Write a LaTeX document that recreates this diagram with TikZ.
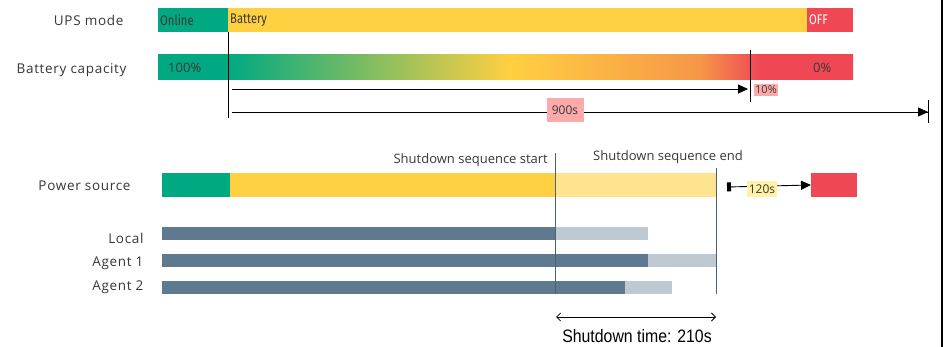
\documentclass[tikz,border=0pt]{standalone}
\usepackage{fontspec}
\setmainfont{Open Sans}
\newfontfamily\condfont[FakeStretch=0.8]{Fira Sans}
\newfontfamily\narrowfont[FakeStretch=0.88]{Liberation Sans}
\usetikzlibrary{positioning, arrows.meta, calc}

\definecolor{hpegreen}{RGB}{1,169,130}
\definecolor{hpeyellow}{RGB}{255,208,66}
\definecolor{hpepale}{RGB}{255,228,143}
\definecolor{hpered}{RGB}{240,71,85}
\definecolor{hpeorange}{RGB}{246,150,72}
\definecolor{slate}{RGB}{95,122,142}
\definecolor{slatelight}{RGB}{191,201,210}
\definecolor{tagpink}{RGB}{255,170,170}
\definecolor{tagyellow}{RGB}{255,241,165}
\definecolor{labelgray}{RGB}{55,55,55}

\pgfdeclarehorizontalshading{capshade}{100bp}{%
  color(0bp)=(hpegreen); color(25bp)=(hpegreen); color(30.04bp)=(hpegreen);
  color(50.3bp)=(hpeyellow); color(64bp)=(hpeorange); color(68.3bp)=(hpered);
  color(75bp)=(hpered); color(100bp)=(hpered)}

\begin{document}
\begin{tikzpicture}[
  x=1pt, y=-1pt,
  every node/.style = {font=\fontsize{13}{15}\selectfont, text=labelgray},
  rowlabel/.style = {anchor=east, font=\fontsize{13.5}{15}\selectfont\addfontfeatures{LetterSpace=5}},
  bar/.style      = {inner sep=0, outer sep=0, anchor=north west, minimum height=24},
  task/.style     = {bar, minimum height=13},
  bartext/.style  = {anchor=west, inner sep=2pt, font=\condfont\fontsize{14}{16}\selectfont},
  tag/.style      = {inner sep=1.5pt, font=\fontsize{12}{14}\selectfont},
  tline/.style    = {draw=black, line width=0.9pt},
  seqline/.style  = {draw=slate!80!black, line width=0.9pt},
  arr/.style      = {-{Triangle[length=10pt, width=9pt]}, line width=0.9pt}
]
\useasboundingbox (0,0) rectangle (944,347);

% UPS mode
\node[rowlabel] (upslbl) at (127,20) {UPS mode};
\node[bar, fill=hpegreen,  minimum width=70]  (online)  at (158,8) {};
\node[bar, fill=hpeyellow, minimum width=579] (battery) at (online.north east) {};
\node[bar, fill=hpered,    minimum width=46]  (off)     at (battery.north east) {};
\node[bartext] at (online.west)  {Online};
\node[bartext] at (battery.west) {Battery};
\node[bartext, text=white] at (off.west) {OFF};

% battery capacity
\node[rowlabel] (caplbl) at (130,70) {Battery capacity};
\node[bar, shade, shading=capshade, minimum width=695, minimum height=25] (cap) at (158,55) {};
\node[bartext, font=\fontsize{13}{15}\selectfont] at ($(cap.west)+(8,0)$) {100\%};
\node[bartext, font=\fontsize{13}{15}\selectfont] at ($(cap.west)+(653,0)$) {0\%};

\coordinate (lowmark) at (750,50);
\coordinate (runstart) at (232,89);
\coordinate (runlow)   at (748,89);
\coordinate (runend)   at (929,112);
\draw[tline] (battery.south west) -- ++(0,86) coordinate (startfoot);
\draw[tline] (lowmark) -- ++(0,52);
\draw[arr] (runstart) -- (runlow);
\draw[arr, -{Triangle[length=10pt, width=9pt]Bar[width=23pt]}] (runstart |- runend) -- (runend);
\node[tag, fill=tagpink, font=\fontsize{11}{13}\selectfont] (ten) at (766,90) {10\%};
\node[tag, fill=tagpink, minimum height=24, minimum width=37] (ninehundred) at (565,110) {900s};

% power source
\node[rowlabel] (pwrlbl) at (134,186) {Power source};
\node[bar, fill=hpegreen,  minimum width=68]  (mains) at (162,173) {};
\node[bar, fill=hpeyellow, minimum width=325] (ups)   at (mains.north east) {};
\node[bar, fill=hpepale,   minimum width=161] (seq)   at (ups.north east) {};
\node[bar, fill=hpered,    minimum width=46]  (down)  at (811,173) {};

% agents
\node[rowlabel] (locallbl) at (147,238) {Local};
\node[rowlabel] (ag1lbl)   at (147,263) {Agent 1};
\node[rowlabel] (ag2lbl)   at (147,287) {Agent 2};
\node[task, fill=slate,      minimum width=393] (local)  at (162,227) {};
\node[task, fill=slatelight, minimum width=93]  (localx) at (local.north east) {};
\node[task, fill=slate,      minimum width=486] (ag1)    at (162,254) {};
\node[task, fill=slatelight, minimum width=68]  (ag1x)   at (ag1.north east) {};
\node[task, fill=slate,      minimum width=463] (ag2)    at (162,281) {};
\node[task, fill=slatelight, minimum width=47]  (ag2x)   at (ag2.north east) {};

% shutdown sequence
\coordinate (seqtop) at (555,153);
\coordinate (endtop) at (716,168);
\draw[seqline] (seqtop) -- (seqtop |- ag2.south);
\draw[seqline] (endtop) -- (endtop |- ag2.south);
\node[anchor=south east, inner sep=0] (seqstart) at (548,167) {Shutdown sequence start};
\node[anchor=south west, inner sep=0] (seqend)   at (593,164) {Shutdown sequence end};

\coordinate (holdL) at (727,187);
\draw[arr, {Square[length=4pt, width=9pt]}-{Triangle[length=10pt, width=9pt]}] (holdL) -- (down.west);
\node[tag, fill=tagyellow, minimum height=16] (hold) at (762,189) {120s};

\coordinate (timeL) at (556,317);
\coordinate (timeR) at (716,317);
\draw[{Straight Barb[length=4pt]}-{Straight Barb[length=4pt]}, line width=0.8pt] (timeL) -- (timeR);
\node[font=\narrowfont\fontsize{18}{20}\selectfont, text=black] (sdtime) at (637,336) {Shutdown time: 210s};

% frame edge
\draw[line width=1.3pt] (942,0) -- (942,347);
\end{tikzpicture}
\end{document}
